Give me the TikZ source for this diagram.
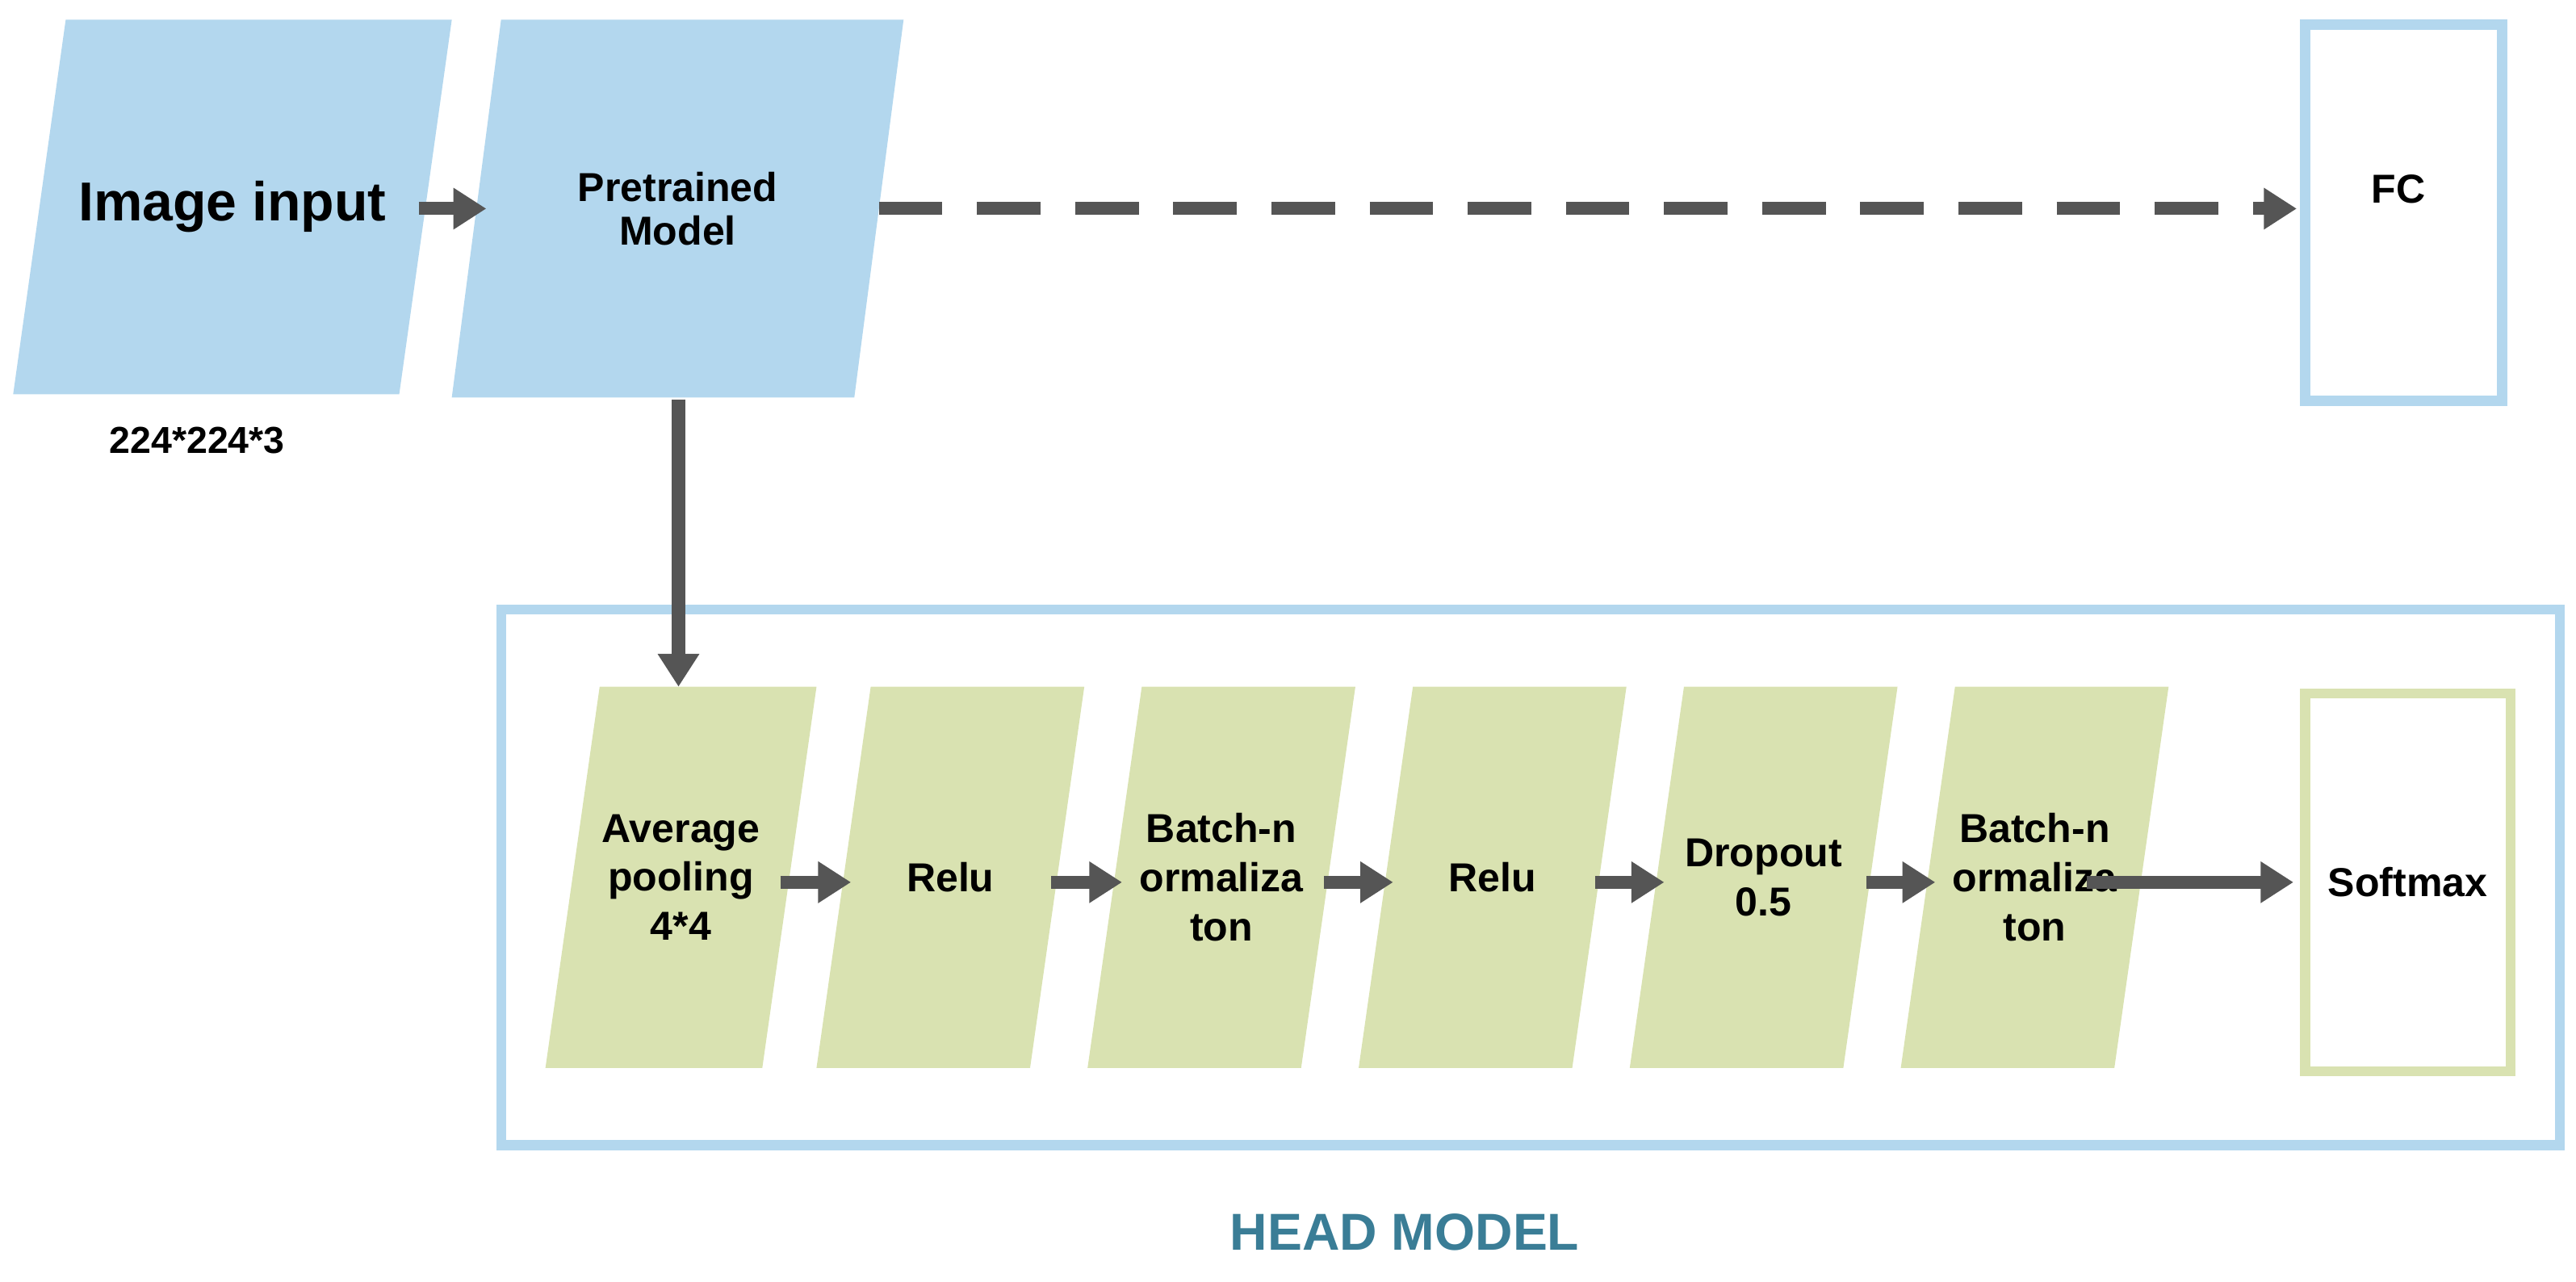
\documentclass[tikz,border=0pt]{standalone}
\usepackage{fontspec}
\setmainfont{Liberation Sans}
\usetikzlibrary{arrows.meta}
\definecolor{pblue}{HTML}{B3D7EE}
\definecolor{pgreen}{HTML}{D9E2B1}
\definecolor{arr}{HTML}{555555}
\definecolor{teal2}{HTML}{3A7D96}
% #1 name #2 color #3 top-left x #4 width #5 skew #6 ytop #7 ybot #8 text #9 font
\newcommand\mypar[9]{%
  \fill[#2] (#3,#6) -- ({#3+#4},#6) -- ({#3+#4-#5},#7) -- ({#3-#5},#7) -- cycle;
  \node[inner sep=0pt,minimum width={(#4-4)*0.02cm},minimum height={(#7-#6)*0.02cm},align=center,font=#9\bfseries]
    (#1) at ({#3+#4/2-#5/2},{(#6+#7)/2}) {#8};}
\begin{document}
\begin{tikzpicture}[x=0.02cm,y=-0.02cm,
  ar/.style={draw=arr,line width=4.5pt,-{Triangle[length=0.4cm,width=0.48cm]}}]
\useasboundingbox (0,0) rectangle (1568,780);
\mypar{img}{pblue}{40}{235}{32}{12}{240}{Image input}{\fontsize{19}{22}\selectfont}
\mypar{pre}{pblue}{305}{245}{30}{12}{242}{Pretrained\\[-2pt]Model}{\fontsize{14}{17}\selectfont}
\node[draw=pblue,line width=3.5pt,minimum width={120*0.02cm},minimum height={229*0.02cm},inner sep=0pt,font=\fontsize{14}{17}\selectfont\bfseries,anchor=north west] (fc) at (1400,12) {};
\node[font=\fontsize{14}{17}\selectfont\bfseries] (fct) at (1460,115) {FC};
\node[font=\fontsize{13}{16}\selectfont\bfseries] (dim) at (120,268) {224*224*3};
\node[draw=pblue,line width=3.5pt,minimum width={1253*0.02cm},minimum height={326*0.02cm},inner sep=0pt,anchor=north west] (head) at (302,368) {};
\def\F{\fontsize{14}{17}\selectfont}
\mypar{g1}{pgreen}{365}{132}{33}{418}{650}{Average\\pooling\\4*4}{\F}
\mypar{g2}{pgreen}{530}{130}{33}{418}{650}{Relu}{\F}
\mypar{g3}{pgreen}{695}{130}{33}{418}{650}{Batch-n\\ormaliza\\ton}{\F}
\mypar{g4}{pgreen}{860}{130}{33}{418}{650}{Relu}{\F}
\mypar{g5}{pgreen}{1025}{130}{33}{418}{650}{Dropout\\0.5}{\F}
\mypar{g6}{pgreen}{1190}{130}{33}{418}{650}{Batch-n\\ormaliza\\ton}{\F}
\node[draw=pgreen,line width=3.5pt,minimum width={125*0.02cm},minimum height={230*0.02cm},inner sep=0pt,font=\F\bfseries,anchor=north west] (sm) at (1400,419) {Softmax};
\node[font=\fontsize{18}{21}\selectfont\bfseries,text=teal2] (hl) at (855,750) {HEAD MODEL};
\coordinate (a1) at (255,127); \coordinate (a2) at (296,127);
\draw[ar] (a1) -- (a2);
\coordinate (d1) at (535,127); \coordinate (d2) at (1398,127);
\draw[ar,dash pattern=on 22pt off 12pt] (d1) -- (d2);
\coordinate (v1) at (413,243); \coordinate (v2) at (413,418);
\draw[ar] (v1) -- (v2);
\foreach \a/\b/\xs/\xe in {g1/g2/475/518,g2/g3/640/683,g3/g4/806/848,g4/g5/971/1013,g5/g6/1136/1178,g6/sm/1270/1396}{
  \coordinate (s\a) at (\xs,537); \coordinate (e\a) at (\xe,537);
  \draw[ar] (s\a) -- (e\a);}
\end{tikzpicture}
\end{document}
